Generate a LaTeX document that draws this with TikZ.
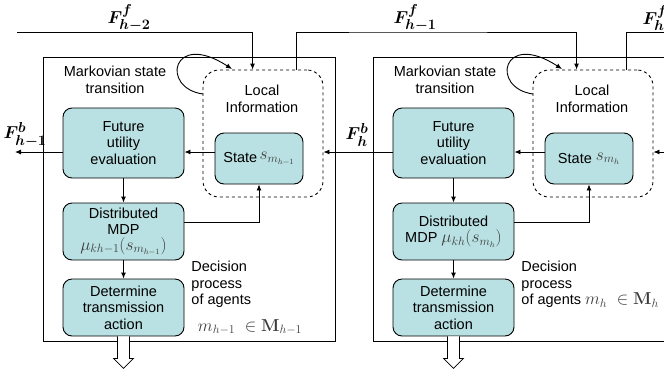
\documentclass[tikz,border=0pt]{standalone}
\usepackage[no-math]{fontspec}
\setmainfont{Liberation Sans}
\usepackage{amsmath}
\usepackage{amssymb}
\usetikzlibrary{arrows.meta,positioning,calc}
\definecolor{boxTeal}{RGB}{185,224,226}
\definecolor{mathInk}{RGB}{60,60,60}
\newcommand{\agmath}[1]{{\fontsize{16.5}{16.5}\selectfont\color{mathInk}$#1$}}

\begin{document}
\begin{tikzpicture}[x=1pt,y=-1pt,line width=0.9pt,
    txt/.style={font=\fontsize{14.5}{16.5}\selectfont,align=center,inner sep=0pt},
    blk/.style={txt,draw,rounded corners=9pt,fill=boxTeal,minimum width=121pt},
    loc/.style={draw,dashed,rounded corners=16pt,minimum width=120pt,minimum height=127pt,inner sep=0pt},
    flow/.style={-{Latex[length=6pt,width=5pt]}},
    fl/.style={font=\fontsize{19}{19}\selectfont\boldmath,inner sep=0pt}]
  \clip (0,0) rectangle (664,373);
  % left agent group
  \draw (43,57) rectangle (335,341);
  \node[loc] (L-loc) at (263,133.5) {};
  \node[txt] (L-loctxt) at (262,99) {Local\\Information};
  \node[txt] (L-mark) at (115,80) {Markovian state\\transition};
  \node[blk,minimum height=70pt] (L-fut) at (123.5,143) {Future\\utility\\evaluation};
  \node[blk,minimum width=88pt,minimum height=51pt] (L-state) at (259,158.5) {State\,\raisebox{3pt}{\agmath{s_{m_{h-1}}}}};
  \node[blk,minimum height=57pt] (L-mdp) at (123.5,231.5) {Distributed\\MDP\\[-1pt]\agmath{\mu_{kh-1}(s_{m_{h-1}})}};
  \node[blk,minimum height=57pt] (L-act) at (123.5,307.5) {Determine\\transmission\\action};
  \node[txt,align=left,anchor=north west] (L-dec) at (191,261) {Decision\\process\\of agents};
  \node[txt] (L-agents) at (250,327) {\agmath{m_{h-1}\;\in\mathbf{M}_{h-1}}};
  \draw[flow] (L-fut) -- (L-mdp);
  \draw[flow] (L-mdp) -- (L-act);
  \draw[flow] (L-mdp.east |- 0,222) -| (L-state.south);
  \draw[flow] (L-state.west |- 0,152) -- (L-fut.east |- 0,152);
  \coordinate (L-bout) at (15,152);
  \draw[flow] (L-fut.west |- L-bout) -- (L-bout);
  \node[fl] (L-fb) at (25,135) {$F^{b}_{h-1}$};
  \coordinate (L-loopa) at (203,94);
  \coordinate (L-loopb) at (232,69);
  \draw[flow] (L-loopa) .. controls (160,88) and (172,30) .. (L-loopb);
  \coordinate (L-fin) at (17,32);
  \draw[flow] (L-fin) -| ($(L-loc.north west)+(50,0)$);
  \node[fl] (L-ff) at (129,18) {$F^{f}_{h-2}$};
  \draw[fill=white,line width=0.7pt] ($(L-act.south)+(-6,0)$) -- ++(0,22) -- ++(-4,0)
    -- ++(10,10) -- ++(10,-10) -- ++(-4,0) -- ++(0,-22);
  % right agent group
  \draw (373,57) rectangle (665,341);
  \node[loc] (R-loc) at (593,133.5) {};
  \node[txt] (R-loctxt) at (592,99) {Local\\Information};
  \node[txt] (R-mark) at (445,80) {Markovian state\\transition};
  \node[blk,minimum height=70pt] (R-fut) at (453.5,143) {Future\\utility\\evaluation};
  \node[blk,minimum width=88pt,minimum height=51pt] (R-state) at (589,158.5) {State\;\raisebox{3pt}{\agmath{s_{m_{h}}}}};
  \node[blk,minimum height=57pt] (R-mdp) at (453.5,231.5) {Distributed\\MDP \agmath{\mu_{kh}(s_{m_{h}})}};
  \node[blk,minimum height=57pt] (R-act) at (453.5,307.5) {Determine\\transmission\\action};
  \node[txt,align=left,anchor=north west] (R-dec) at (521,261) {Decision\\process\\of agents \agmath{m_{h}\;\in\mathbf{M}_{h}}};
  \draw[flow] (R-fut) -- (R-mdp);
  \draw[flow] (R-mdp) -- (R-act);
  \draw[flow] (R-mdp.east |- 0,222) -| (R-state.south);
  \draw[flow] (R-state.west |- 0,152) -- (R-fut.east |- 0,152);
  \draw[flow] (R-fut.west |- L-bout) -- (L-loc.east |- L-bout);
  \node[fl] (R-fb) at (357,135) {$F^{b}_{h}$};
  \coordinate (R-bin) at (672,152);
  \draw[flow] (R-bin) -- (R-loc.east |- R-bin);
  \coordinate (R-loopa) at (533,94);
  \coordinate (R-loopb) at (562,69);
  \draw[flow] (R-loopa) .. controls (490,88) and (502,30) .. (R-loopb);
  \draw[flow] ($(L-loc.north west)+(94,0)$) |- (400,32) -| ($(R-loc.north west)+(44,0)$);
  \node[fl] (R-ff) at (415,18) {$F^{f}_{h-1}$};
  \draw ($(R-loc.north west)+(94,0)$) |- (672,32);
  \node[fl] (R-ffo) at (655,18) {$F^{f}_{h}$};
  \draw[fill=white,line width=0.7pt] ($(R-act.south)+(-6,0)$) -- ++(0,22) -- ++(-4,0)
    -- ++(10,10) -- ++(10,-10) -- ++(-4,0) -- ++(0,-22);
\end{tikzpicture}
\end{document}
